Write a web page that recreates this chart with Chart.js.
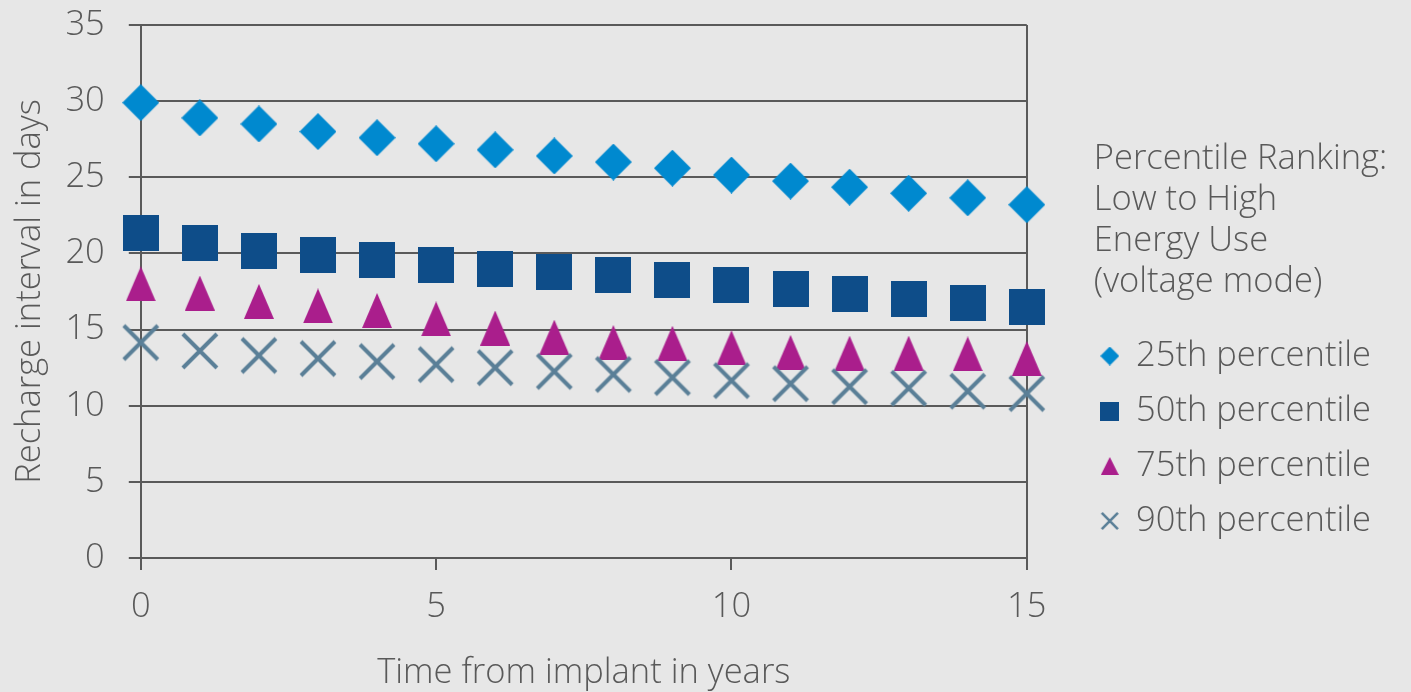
<!DOCTYPE html>
<html>
<head>
<meta charset="utf-8">
<script src="https://cdn.jsdelivr.net/npm/chart.js@4/dist/chart.umd.min.js"></script>
<style>
  html, body { margin: 0; padding: 0; background: #e7e7e7; }
  #wrap { width: 1411px; height: 692px; position: relative; }
</style>
</head>
<body>
<div id="wrap"><canvas id="c"></canvas></div>
<script>
// ---- data ----
const years = [0, 1, 2, 3, 4, 5, 6, 7, 8, 9, 10, 11, 12, 13, 14, 15];
const p25 = [29.9, 28.9, 28.5, 28.0, 27.6, 27.2, 26.8, 26.4, 26.0, 25.6, 25.15, 24.75, 24.35, 23.95, 23.65, 23.2];
const p50 = [21.35, 20.7, 20.15, 19.9, 19.55, 19.25, 19.0, 18.8, 18.6, 18.25, 17.95, 17.65, 17.35, 17.0, 16.75, 16.45];
const p75 = [18.0, 17.4, 16.85, 16.55, 16.25, 15.7, 15.1, 14.5, 14.15, 14.1, 13.8, 13.5, 13.45, 13.45, 13.4, 13.1];
const p90 = [14.15, 13.6, 13.3, 13.1, 12.9, 12.7, 12.5, 12.25, 12.05, 11.85, 11.65, 11.45, 11.25, 11.15, 10.95, 10.8];
const seriesLabels = ['25th percentile', '50th percentile', '75th percentile', '90th percentile'];
const legendHeading = ['Percentile Ranking:', 'Low to High', 'Energy Use', '(voltage mode)'];
const xTitle = 'Time from implant in years';
const yTitle = 'Recharge interval in days';

// ---- styles ----
const colors = ['#0089cf', '#0e4d89', '#aa1e8c', '#5a7f97'];
const textColor = '#595959';
const gridColor = '#5a5a5a';
const FONT = "'Open Sans', Lato, sans-serif";
const FS = 34.5;

function makeMarker(kind, color, w, h, lw) {
  const c = document.createElement('canvas');
  c.width = w; c.height = h;
  const g = c.getContext('2d');
  g.fillStyle = color; g.strokeStyle = color;
  if (kind === 'diamond') {
    g.beginPath(); g.moveTo(w / 2, 0); g.lineTo(w, h / 2); g.lineTo(w / 2, h); g.lineTo(0, h / 2); g.closePath(); g.fill();
  } else if (kind === 'square') {
    g.fillRect(0, 0, w, h);
  } else if (kind === 'triangle') {
    g.beginPath(); g.moveTo(w / 2, 0); g.lineTo(w, h); g.lineTo(0, h); g.closePath(); g.fill();
  } else if (kind === 'cross') {
    const m = lw * 0.75;
    g.lineWidth = lw;
    g.beginPath(); g.moveTo(m, m); g.lineTo(w - m, h - m); g.moveTo(w - m, m); g.lineTo(m, h - m); g.stroke();
  }
  return c;
}
const plotMarkers = [
  makeMarker('diamond', colors[0], 37, 37),
  makeMarker('square', colors[1], 36, 36),
  makeMarker('triangle', colors[2], 30, 35),
  makeMarker('cross', colors[3], 40, 40, 4)
];
const legendMarkers = [
  makeMarker('diamond', colors[0], 19, 19),
  makeMarker('square', colors[1], 19, 19),
  makeMarker('triangle', colors[2], 18, 18),
  makeMarker('cross', colors[3], 20, 20, 2.6)
];

const seriesValues = [p25, p50, p75, p90];
const datasets = seriesValues.map((vals, i) => ({
  label: seriesLabels[i],
  data: years.map((x, j) => ({ x: x, y: vals[j] })),
  pointStyle: plotMarkers[i],
  pointRadius: 18,
  backgroundColor: colors[i],
  borderColor: colors[i],
  showLine: false,
  clip: false,
  order: 4 - i
}));

const bgPlugin = {
  id: 'bg',
  beforeDraw(chart) {
    const ctx = chart.ctx;
    ctx.save(); ctx.fillStyle = '#e7e7e7'; ctx.fillRect(0, 0, chart.width, chart.height); ctx.restore();
  }
};
const headingPlugin = {
  id: 'heading',
  afterDraw(chart) {
    const ctx = chart.ctx;
    const lg = chart.legend;
    ctx.save();
    ctx.fillStyle = textColor;
    ctx.font = "300 " + FS + "px " + FONT;
    ctx.textAlign = 'left';
    ctx.textBaseline = 'middle';
    const x = lg.left + 13.5;
    legendHeading.forEach((t, i) => ctx.fillText(t, x, 159 + i * 41));
    ctx.restore();
  }
};

const tickFont = { family: FONT, size: FS, weight: '300' };

new Chart(document.getElementById('c'), {
  type: 'scatter',
  data: { datasets: datasets },
  plugins: [bgPlugin, headingPlugin],
  options: {
    responsive: true,
    maintainAspectRatio: false,
    animation: false,
    devicePixelRatio: 1,
    layout: { padding: { top: 25, right: 30, bottom: 0, left: 0 } },
    plugins: {
      tooltip: { enabled: false },
      legend: {
        position: 'right',
        align: 'start',
        maxWidth: 400,
        title: { display: true, text: '', font: { size: 12 }, padding: { top: 0, bottom: 278.85 } },
        labels: {
          usePointStyle: true,
          boxWidth: 18,
          boxHeight: 18,
          padding: 20.5,
          color: textColor,
          font: tickFont,
          generateLabels(chart) {
            const items = Chart.defaults.plugins.legend.labels.generateLabels(chart);
            items.forEach(it => { it.pointStyle = legendMarkers[it.datasetIndex]; });
            return items;
          },
          sort: (a, b) => a.datasetIndex - b.datasetIndex
        }
      }
    },
    scales: {
      x: {
        type: 'linear',
        min: 0, max: 15,
        ticks: { stepSize: 5, color: textColor, padding: 16.3, font: tickFont },
        grid: {
          color: (ctx) => (ctx.tick && ctx.tick.value === 15) ? gridColor : 'rgba(0,0,0,0)',
          tickColor: gridColor,
          lineWidth: 2,
          tickLength: 12,
          drawTicks: true
        },
        border: { display: true, color: gridColor, width: 2 },
        title: { display: true, text: xTitle, color: textColor, font: tickFont, padding: { top: 8.1, bottom: -1.5 } }
      },
      y: {
        min: 0, max: 35,
        ticks: { stepSize: 5, color: textColor, padding: 24, font: tickFont },
        grid: { color: gridColor, tickColor: gridColor, lineWidth: 2, tickLength: 12 },
        border: { display: true, color: gridColor, width: 2 },
        title: { display: true, text: yTitle, color: textColor, font: tickFont, padding: { top: 9.3, bottom: -9.3 } },
        afterFit(scale) { scale.paddingTop = 0; scale.paddingBottom = 0; }
      },
      gap: {
        type: 'linear',
        position: 'right',
        display: true,
        grid: { display: false },
        border: { display: false },
        ticks: { display: false },
        afterFit(scale) { scale.width = 53.5; }
      }
    }
  }
});
</script>
</body>
</html>
